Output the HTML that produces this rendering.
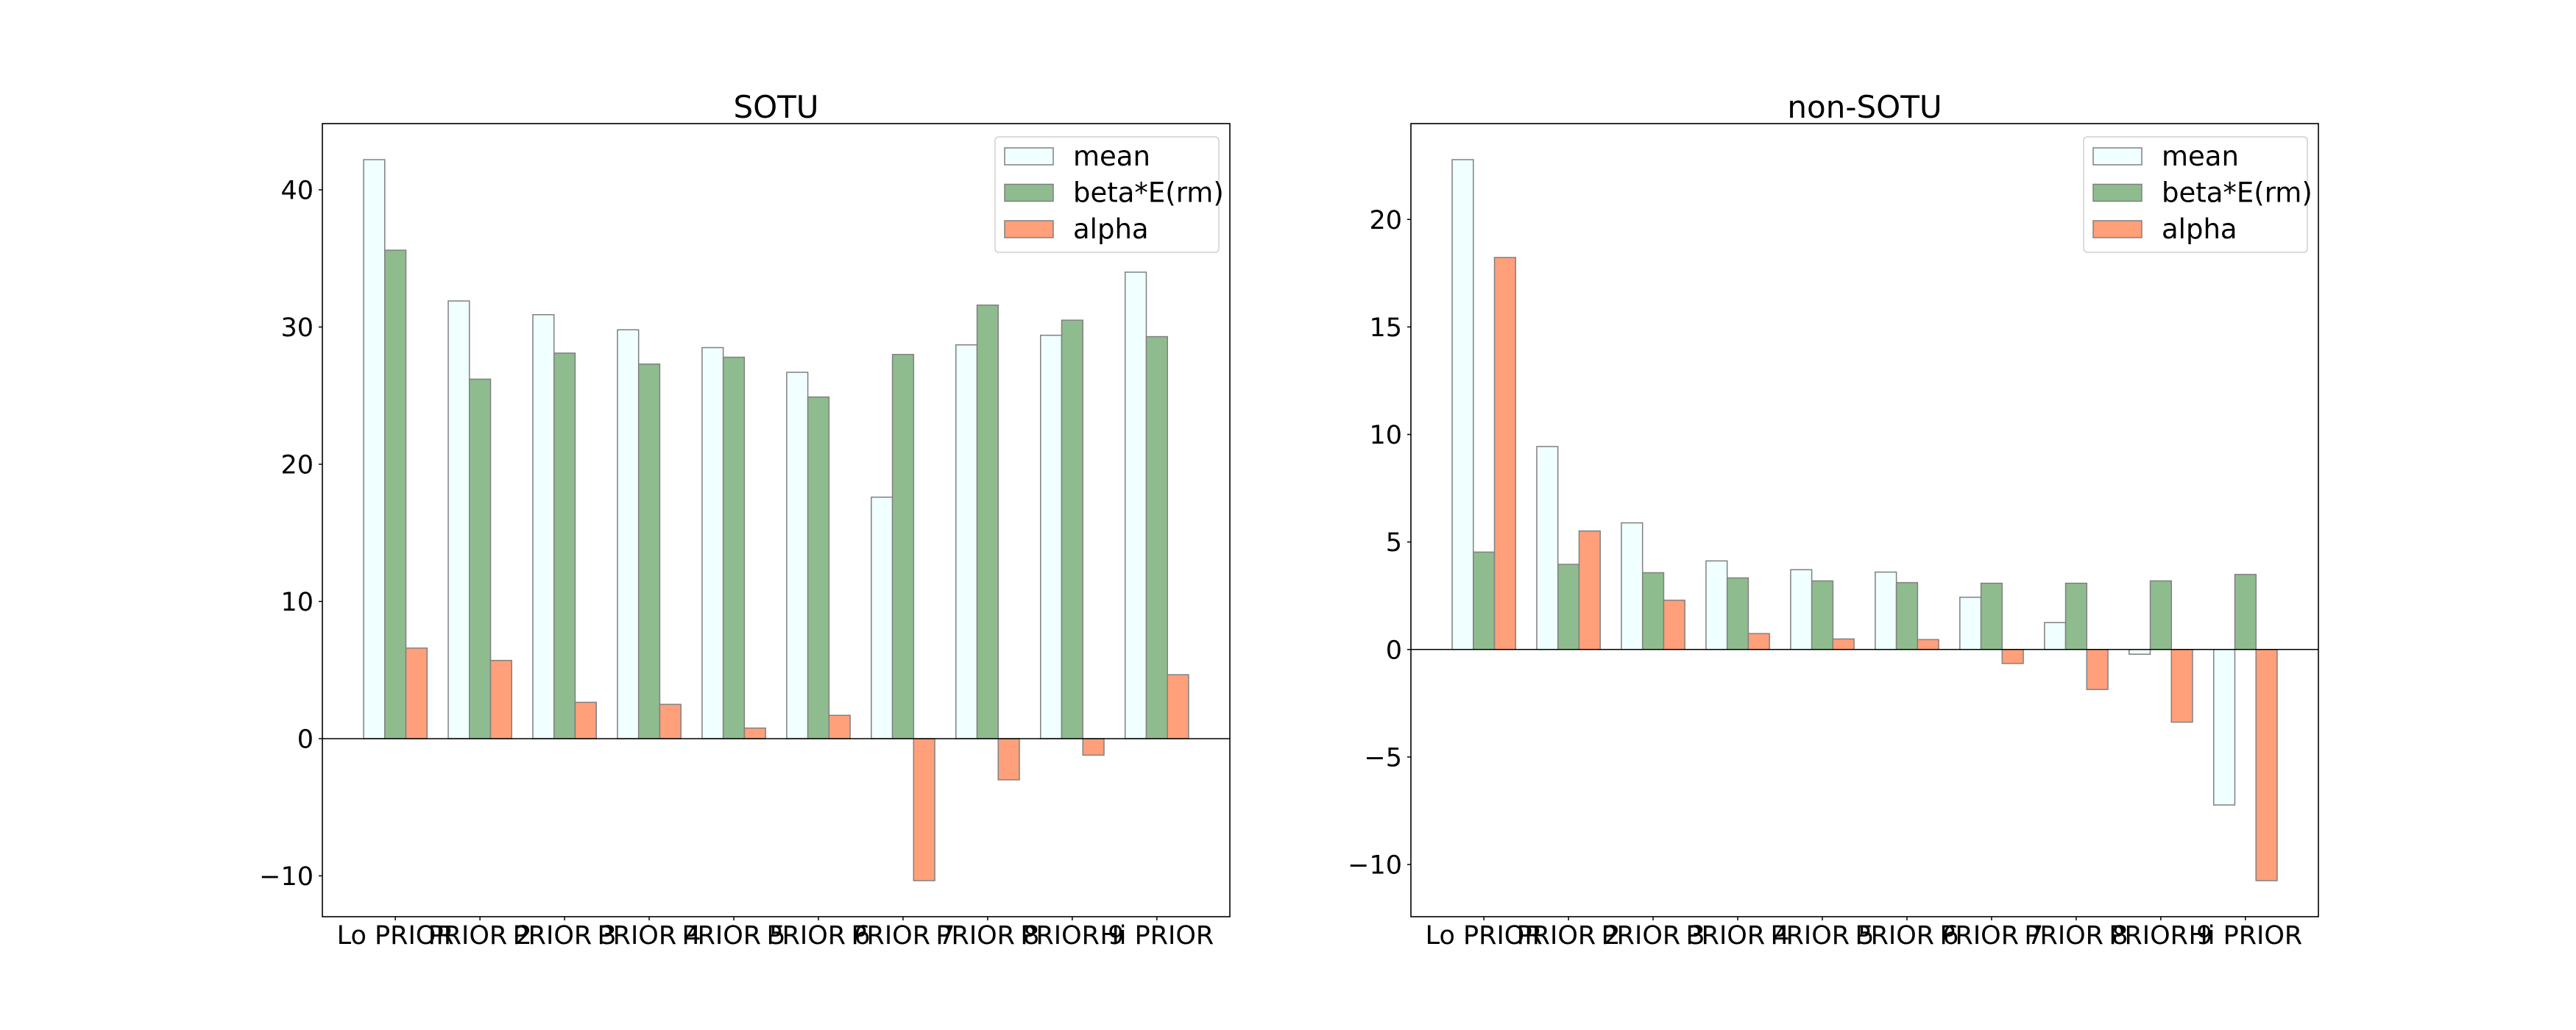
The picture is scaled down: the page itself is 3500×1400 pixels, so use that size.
<!DOCTYPE html>
<html><head><meta charset="utf-8"><style>
html,body{margin:0;padding:0;background:#fff;}
svg{display:block;font-family:"DejaVu Sans","Liberation Sans",sans-serif;}
</style></head><body>
<svg id="fig" width="3500" height="1400" viewBox="0 0 3500 1400" xmlns="http://www.w3.org/2000/svg"></svg>
<script>
const categories = ["Lo PRIOR","PRIOR 2","PRIOR 3","PRIOR 4","PRIOR 5","PRIOR 6","PRIOR 7","PRIOR 8","PRIOR 9","Hi PRIOR"];
const seriesNames = ["mean","beta*E(rm)","alpha"];
const sotuMean = [42.2,31.9,30.9,29.8,28.5,26.7,17.6,28.7,29.4,34.0];
const sotuBeta = [35.6,26.2,28.1,27.3,27.8,24.9,28.0,31.6,30.5,29.3];
const sotuAlpha = [6.6,5.7,2.65,2.5,0.77,1.7,-10.35,-3.0,-1.2,4.66];
const nonMean = [22.78,9.44,5.89,4.12,3.71,3.60,2.43,1.25,-0.22,-7.23];
const nonBeta = [4.53,3.96,3.57,3.33,3.19,3.11,3.08,3.08,3.19,3.49];
const nonAlpha = [18.23,5.51,2.29,0.74,0.49,0.46,-0.65,-1.86,-3.38,-10.75];
const sotuTicks = [-10,0,10,20,30,40];
const nonTicks = [-10,-5,0,5,10,15,20];
const sotuTickLabels = ["\u221210","0","10","20","30","40"];
const nonTickLabels = ["\u221210","\u22125","0","5","10","15","20"];

const NS="http://www.w3.org/2000/svg";
const svg=document.getElementById('fig');
const colors=["#f0ffff","#8fbc8f","#ffa07a"];
function el(tag,attrs,parent){const e=document.createElementNS(NS,tag);for(const k in attrs)e.setAttribute(k,attrs[k]);(parent||svg).appendChild(e);return e;}

function drawPanel(opt){
  const g=el('g',{});
  
  
  const L=opt.left,R=opt.left+1233,T=168,B=1246;
  const series=[opt.mean,opt.beta,opt.alpha];
  let all=[].concat(...series,0);
  const mn=Math.min(...all),mx=Math.max(...all),pad=(mx-mn)*0.05;
  const y0=mn-pad,y1=mx+pad;
  const n=categories.length,bw=0.25;
  const x0=-0.375-0.4875,x1=(n-1)+0.375+0.4875;
  const X=v=>L+(v-x0)/(x1-x0)*(R-L);
  const Y=v=>B-(v-y0)/(y1-y0)*(B-T);
  for(let s=0;s<3;s++){
    for(let i=0;i<n;i++){
      const v=series[s][i];
      const xc=i+(s-1)*bw;
      const r=el('rect',{x:X(xc-bw/2),y:Math.min(Y(v),Y(0)),width:X(xc+bw/2)-X(xc-bw/2),height:Math.abs(Y(v)-Y(0)),fill:colors[s],stroke:'#808080','stroke-width':1.5},g);
      
      
    }
  }
  const zl=el('line',{x1:L,x2:R,y1:Y(0),y2:Y(0),stroke:'#000','stroke-width':1.5},g);
  
  
  const fr=el('rect',{x:L,y:T,width:R-L,height:B-T,fill:'none',stroke:'#000','stroke-width':1.6},g);
  
  
  opt.ticks.forEach((t,k)=>{
    const y=Y(t);
    el('line',{x1:L-5,x2:L,y1:y,y2:y,stroke:'#000','stroke-width':1.5},g);
    const tx=el('text',{x:L-12,y:y+12.5,'font-size':35,'text-anchor':'end',fill:'#000'},g);
    tx.textContent=opt.tickLabels[k];
    
    
  });
  categories.forEach((c,i)=>{
    const x=X(i);
    el('line',{x1:x,x2:x,y1:B,y2:B+5,stroke:'#000','stroke-width':1.5},g);
    const tx=el('text',{x:x,y:1283,'font-size':35,'text-anchor':'middle',fill:'#000'},g);
    tx.textContent=c;
    
    
  });
  const ti=el('text',{x:(L+R)/2,y:160,'font-size':42,'text-anchor':'middle',fill:'#000'},g);
  ti.textContent=opt.title;
  
  
  const lg=el('g',{},g);
  
  
  const lx=R-319;
  el('rect',{x:lx,y:186,width:304,height:157,rx:5,fill:'#fff','fill-opacity':0.8,stroke:'#d0d0d0','stroke-width':1.5},lg);
  seriesNames.forEach((nm,s)=>{
    const yy=201+s*49.5;
    el('rect',{x:lx+13,y:yy,width:66,height:23,fill:colors[s],stroke:'#808080','stroke-width':1.5},lg);
    const t=el('text',{x:lx+106,y:yy+24,'font-size':37,fill:'#000'},lg);
    t.textContent=nm;
    
    
  });
}
drawPanel({name:'sotu-chart',left:438,title:'SOTU',mean:sotuMean,beta:sotuBeta,alpha:sotuAlpha,ticks:sotuTicks,tickLabels:sotuTickLabels});
drawPanel({name:'non-sotu-chart',left:1917,title:'non-SOTU',mean:nonMean,beta:nonBeta,alpha:nonAlpha,ticks:nonTicks,tickLabels:nonTickLabels});
</script>
</body></html>
